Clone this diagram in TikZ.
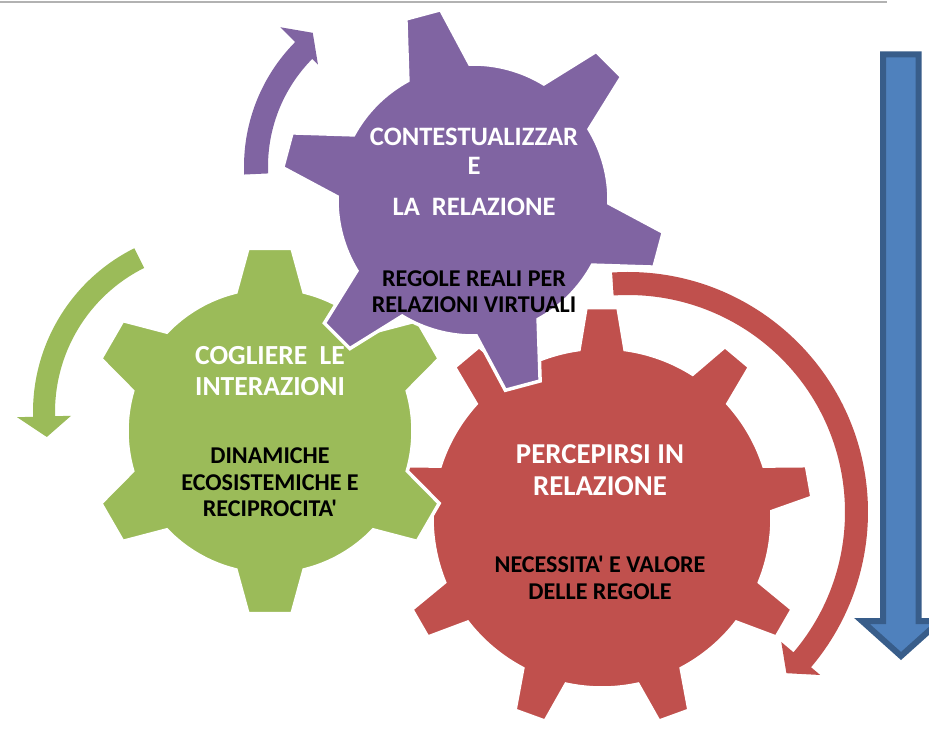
\documentclass[tikz,border=0pt]{standalone}
\usepackage{fontspec}
\setmainfont{Carlito}[Ligatures=TeXOff]
\newfontfamily\cbf{Carlito Bold}[Ligatures=TeXOff]
\definecolor{gpurple}{HTML}{8064A2}
\definecolor{ggreen}{HTML}{9BBB59}
\definecolor{gred}{HTML}{C0504D}
\definecolor{bfill}{HTML}{4F81BD}
\definecolor{bline}{HTML}{385D8A}
% #1 options, #2 first tooth angle, #3 step (positive), #4 count, #5 tip radius, #6 body radius, #7 tip half width, #8 base half width
\newcommand{\gearpath}[8]{%
  \pgfmathsetmacro\gbt{asin(#7/#5)}%
  \pgfmathsetmacro\gbb{asin(#8/#6)}%
  \pgfmathsetmacro\gnx{#2+#3}%
  \pgfmathsetmacro\gls{#2+(#4-1)*#3}%
  \path[#1] ({#2-\gbb}:#6pt)
    \foreach \a in {#2,\gnx,...,\gls} {
      -- ({\a-\gbt}:#5pt) -- ({\a+\gbt}:#5pt) -- ({\a+\gbb}:#6pt)
      arc[start angle={\a+\gbb}, end angle={\a+#3-\gbb}, radius=#6pt]
    } -- cycle;}
% #1 options, #2 Rin, #3 Rout, #4 start angle, #5 head base angle, #6 tip angle, #7 inner barb r, #8 outer barb r, #9 tip r
\newcommand{\circarrow}[9]{%
  \path[#1] (#4:#3pt) arc[start angle=#4, end angle=#5, radius=#3pt]
    -- (#5:#8pt) -- (#6:#9pt) -- (#5:#7pt) -- (#5:#2pt)
    arc[start angle=#5, end angle=#4, radius=#2pt] -- cycle;}
\tikzset{
  gearstyle/.style={draw=white, line width=3.5pt, line join=miter},
  txtbase/.style={anchor=base, inner sep=0pt},
  hptxt/.style={txtbase, text=white, font=\cbf\fontsize{26.6}{30}\selectfont},
  hgtxt/.style={txtbase, text=white, font=\cbf\fontsize{27.6}{30}\selectfont},
  hrtxt/.style={txtbase, text=white, font=\cbf\fontsize{28.8}{30}\selectfont},
  btxt/.style={txtbase, text=black, font=\cbf\fontsize{24.1}{26}\selectfont},
  bluearrow/.style={fill=bfill, draw=bline, line width=6pt, line join=miter}
}
\begin{document}
\begin{tikzpicture}[x=1pt,y=1pt]
\useasboundingbox (0,0) rectangle (929,734);
\fill[white] (0,0) rectangle (929,734);
% top rule
\coordinate (tl) at (0,732);
\coordinate (tr) at (887,732);
\draw[gray!60, line width=1.3pt] (tl) -- (tr);
% red gear and arrow
\circarrow{shift={(628,222)},fill=gred}{217}{240}{93.8}{-40.3}{-45.5}{201}{252}{226}
\gearpath{shift={(602,216)},fill=gred,gearstyle}{90}{40}{9}{211}{170}{16}{23}
% green gear and arrow
\circarrow{shift={(216,322)},fill=ggreen}{161}{183}{116.5}{181.5}{188.4}{145}{199}{171}
\gearpath{shift={(270,303)},fill=ggreen,gearstyle}{90}{60}{6}{184}{143}{22}{34}
% purple gear and arrow
\circarrow{shift={(421,567.5)},fill=gpurple}{153}{177}{182.6}{135.3}{129}{145}{198}{172}
\gearpath{shift={(473,534)},fill=gpurple,gearstyle}{45}{60}{6}{193}{136}{18}{32}
% blue arrow
\path[bluearrow] (883,679.5) -- (918.5,679.5) -- (918.5,113) -- (940,113) -- (901,78) -- (862,113) -- (883,113) -- cycle;
% texts purple
\node[hptxt] (p1) at (474,588) {CONTESTUALIZZAR};
\node[hptxt] (p2) at (474,559) {E};
\node[hptxt] (p3) at (474,518) {LA\ \ RELAZIONE};
\node[btxt] (p4) at (474,447) {REGOLE REALI PER};
\node[btxt] (p5) at (474,421) {RELAZIONI VIRTUALI};
% texts green
\node[hgtxt] (g1) at (270,369) {COGLIERE\ \ LE};
\node[hgtxt] (g2) at (270,338) {INTERAZIONI};
\node[btxt] (g3) at (270,270) {DINAMICHE};
\node[btxt] (g4) at (270,243) {ECOSISTEMICHE E};
\node[btxt] (g5) at (270,217) {RECIPROCITA'};
% texts red
\node[hrtxt] (r1) at (600,270) {PERCEPIRSI IN};
\node[hrtxt] (r2) at (600,238) {RELAZIONE};
\node[btxt] (r3) at (600,161) {NECESSITA' E VALORE};
\node[btxt] (r4) at (600,135) {DELLE REGOLE};
\end{tikzpicture}
\end{document}
